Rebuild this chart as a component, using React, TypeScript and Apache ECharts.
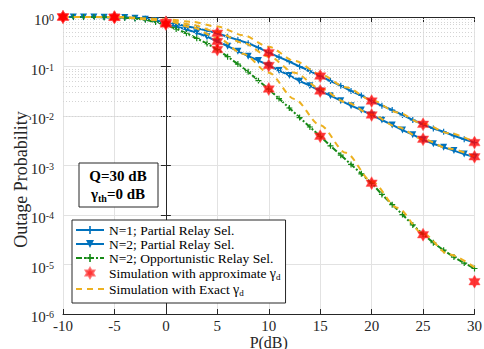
import React, { useEffect, useRef } from "react";
import * as echarts from "echarts";

const SERIF = '"Liberation Serif", "Times New Roman", serif';

// P (dB) grid of the analytical curves
const P_DB = [-10, -9, -8, -7, -6, -5, -4, -3, -2, -1, 0, 1, 2, 3, 4, 5, 6, 7, 8, 9, 10, 11, 12, 13, 14, 15, 16, 17, 18, 19, 20, 21, 22, 23, 24, 25, 26, 27, 28, 29, 30];

const N1_PARTIAL = [1.0, 1.0, 1.0, 0.998, 0.995, 0.99, 0.98, 0.96, 0.92, 0.85, 0.78, 0.72, 0.65, 0.59, 0.53, 0.47, 0.40, 0.345, 0.295, 0.24, 0.19, 0.155, 0.126, 0.10, 0.081, 0.064, 0.051, 0.041, 0.032, 0.026, 0.020, 0.0162, 0.0132, 0.0105, 0.0083, 0.0068, 0.0056, 0.0048, 0.0040, 0.0034, 0.0029];

const N2_PARTIAL = [1.0, 1.0, 1.0, 0.998, 0.993, 0.986, 0.973, 0.944, 0.90, 0.83, 0.74, 0.645, 0.56, 0.48, 0.40, 0.32, 0.257, 0.204, 0.162, 0.132, 0.105, 0.083, 0.066, 0.051, 0.041, 0.032, 0.0257, 0.0204, 0.0162, 0.0132, 0.0105, 0.0083, 0.0066, 0.0052, 0.0042, 0.0033, 0.00275, 0.00234, 0.0020, 0.0017, 0.00148];

const N2_OPPORTUNISTIC = [1.0, 1.0, 1.0, 0.998, 0.993, 0.984, 0.966, 0.933, 0.88, 0.79, 0.69, 0.575, 0.47, 0.37, 0.29, 0.22, 0.158, 0.112, 0.078, 0.052, 0.035, 0.0224, 0.0145, 0.0093, 0.006, 0.0039, 0.0025, 0.00162, 0.00105, 0.00068, 0.00044, 0.00026, 0.000162, 0.000102, 0.000063, 0.000041, 0.0000275, 0.0000195, 0.0000141, 0.0000107, 0.0000083];

// Simulation with approximate gamma_d (red hexagrams)
const SIM_P = [-10, -5, 0, 5, 10, 15, 20, 25, 30];
const SIM_N1 = [1.0, 0.99, 0.78, 0.47, 0.19, 0.064, 0.020, 0.0068, 0.0029];
const SIM_N2 = [1.0, 0.986, 0.75, 0.32, 0.105, 0.032, 0.0105, 0.0034, 0.0015];
const SIM_OPP = [1.0, 0.984, 0.72, 0.22, 0.035, 0.0039, 0.00044, 0.00004, 0.0000045];

// Simulation with exact gamma_d (yellow dashed)
const EXACT_P = [-10, -5, 0, 2.5, 5, 7.5, 10, 12.5, 15, 17.5, 20, 22.5, 25, 27.5, 30];
const EXACT_N1 = [1.0, 1.0, 0.9, 0.8, 0.64, 0.43, 0.25, 0.13, 0.07, 0.038, 0.021, 0.0118, 0.0070, 0.0045, 0.0030];
const EXACT_N2 = [1.0, 1.0, 0.86, 0.7, 0.5, 0.3, 0.16, 0.075, 0.036, 0.019, 0.0107, 0.0060, 0.0034, 0.0022, 0.00152];
const EXACT_OPP = [1.0, 1.0, 0.85, 0.62, 0.38, 0.18, 0.075, 0.022, 0.0065, 0.0018, 0.00048, 0.00014, 0.000042, 0.000016, 0.0000088];

const NAME_N1 = "N=1; Partial Relay Sel.";
const NAME_N2 = "N=2; Partial Relay Sel.";
const NAME_OPP = "N=2; Opportunistic Relay Sel.";
const NAME_APPROX = "Simulation with approximate γd";
const NAME_EXACT = "Simulation with Exact γd";

const BLUE = "#0072BD";
const GREEN = "#178A17";
const YELLOW = "#EDB120";
const RED = "#FF0000";
const AXIS = "#262626";

const PLUS = "path://M4,0L6,0L6,4L10,4L10,6L6,6L6,10L4,10L4,6L0,6L0,4L4,4Z";
const HEXAGRAM = "path://M10,0L12.89,5L18.66,5L15.77,10L18.66,15L12.89,15L10,20L7.11,15L1.34,15L4.23,10L1.34,5L7.11,5Z";

const zip = (xs: number[], ys: number[]) => xs.map((x, i) => [x, ys[i]]);

export default function App() {
  const ref = useRef<HTMLDivElement>(null);

  useEffect(() => {
    if (!ref.current) return;
    const chart = echarts.init(ref.current, null, { renderer: "svg" });

    const minorLines: any[] = [];
    for (let e = -6; e < 0; e++) {
      for (let m = 2; m <= 9; m++) minorLines.push({ yAxis: m * Math.pow(10, e) });
    }

    const lineBase = {
      type: "line",
      showSymbol: true,
      symbolKeepAspect: true,
      z: 3,
    };

    const starSeries = (data: number[]) => ({
      name: NAME_APPROX,
      type: "scatter",
      data: zip(SIM_P, data),
      symbol: HEXAGRAM,
      symbolSize: 13,
      symbolKeepAspect: true,
      itemStyle: { color: RED, borderColor: "#ff5a5a", borderWidth: 0.6 },
      z: 6,
    });

    const exactSeries = (data: number[]) => ({
      name: NAME_EXACT,
      type: "line",
      data: zip(EXACT_P, data),
      symbol: "none",
      smooth: 0.3,
      smoothMonotone: "x",
      lineStyle: { color: YELLOW, width: 2, type: [6, 5] },
      itemStyle: { color: YELLOW },
      z: 5,
    });

    const option: any = {
      animation: false,
      backgroundColor: "#ffffff",
      textStyle: { fontFamily: SERIF },
      grid: { left: 63, right: 9.5, top: 17, bottom: 35, outerBoundsMode: "none", containLabel: false },
      xAxis: [
        {
          type: "value",
          min: -10,
          max: 30,
          interval: 5,
          name: "P(dB)",
          nameLocation: "middle",
          nameGap: 20,
          nameMoveOverlap: false,
          nameTextStyle: { fontFamily: SERIF, fontSize: 16, color: AXIS },
          axisLine: { show: true, lineStyle: { color: AXIS, width: 1 } },
          axisTick: { show: true, inside: true, length: 5, lineStyle: { color: AXIS } },
          axisLabel: { fontFamily: SERIF, fontSize: 15, color: AXIS, margin: 5, lineHeight: 14 },
          splitLine: { show: true, lineStyle: { color: "#e2e2e2", width: 1 } },
        },
        {
          type: "value",
          position: "top",
          min: -10,
          max: 30,
          interval: 5,
          axisLine: { show: true, lineStyle: { color: AXIS, width: 1 } },
          axisTick: { show: true, inside: true, length: 5, lineStyle: { color: AXIS } },
          axisLabel: { show: false },
          splitLine: { show: false },
        },
      ],
      yAxis: [
        {
          type: "log",
          logBase: 10,
          min: 1e-6,
          max: 1,
          splitNumber: 6,
          name: "Outage Probability",
          nameLocation: "middle",
          nameGap: 33,
          nameMoveOverlap: false,
          nameTextStyle: { fontFamily: SERIF, fontSize: 18, color: AXIS, padding: [0, 28, 0, 0] },
          axisLine: { show: true, lineStyle: { color: AXIS, width: 1 } },
          axisTick: { show: true, inside: true, length: 5, lineStyle: { color: AXIS } },
          axisLabel: {
            margin: 9,
            formatter: (v: number) => `{b|10}{s|${Math.round(Math.log10(v))}}`,
            rich: {
              b: { fontFamily: SERIF, fontSize: 15, color: AXIS, lineHeight: 15, padding: [6, 0, 0, 0] },
              s: { fontFamily: SERIF, fontSize: 10, color: AXIS, lineHeight: 10, padding: [3, 0, 0, 0], verticalAlign: "top" },
            },
          },
          splitLine: { show: true, lineStyle: { color: "#e2e2e2", width: 1 } },
        },
        {
          type: "log",
          logBase: 10,
          min: 1e-6,
          max: 1,
          splitNumber: 6,
          position: "right",
          axisLine: { show: true, lineStyle: { color: AXIS, width: 1 } },
          axisTick: { show: true, inside: true, length: 5, lineStyle: { color: AXIS } },
          axisLabel: { show: false },
          splitLine: { show: false },
        },
      ],
      legend: {
        orient: "vertical",
        left: 72,
        top: 220,
        backgroundColor: "#ffffff",
        borderColor: AXIS,
        borderWidth: 1,
        borderRadius: 0,
        padding: [3, 5, 6, 3],
        itemGap: 0,
        itemWidth: 28,
        itemHeight: 10,
        z: 20,
        data: [
          { name: NAME_N1 },
          { name: NAME_N2 },
          { name: NAME_OPP },
          { name: NAME_APPROX },
          { name: NAME_EXACT, itemStyle: { opacity: 0 } },
        ],
        formatter: (name: string) => {
          if (name === NAME_APPROX) return "{t|Simulation with approximate }{g|γ}{d|d}";
          if (name === NAME_EXACT) return "{t|Simulation with Exact }{g|γ}{d|d}";
          return `{t|${name}}`;
        },
        textStyle: {
          fontFamily: SERIF,
          fontSize: 13.5,
          color: "#000",
          lineHeight: 14,
          rich: {
            t: { fontFamily: SERIF, fontSize: 13.5, color: "#000", lineHeight: 14 },
            g: { fontFamily: SERIF, fontSize: 14, color: "#000", lineHeight: 14 },
            d: { fontFamily: SERIF, fontSize: 9, color: "#000", lineHeight: 10, padding: [7, 0, 0, 0] },
          },
        },
      },
      graphic: [
        {
          type: "rect",
          z: 100,
          shape: { x: 79, y: 163, width: 79, height: 44 },
          style: { fill: "#ffffff", stroke: AXIS, lineWidth: 1 },
        },
        {
          type: "text",
          z: 101,
          x: 118,
          y: 176,
          style: {
            text: "Q=30 dB",
            font: `bold 15px ${SERIF}`,
            fill: "#000",
            align: "center",
            verticalAlign: "middle",
          },
        },
        {
          type: "text",
          z: 101,
          x: 118,
          y: 194,
          style: {
            text: "{g|γ}{s|th}{t|=0 dB}",
            align: "center",
            verticalAlign: "middle",
            fill: "#000",
            rich: {
              g: { fontFamily: SERIF, fontSize: 15, fontWeight: "bold", fill: "#000", lineHeight: 15 },
              s: { fontFamily: SERIF, fontSize: 10, fontWeight: "bold", fill: "#000", lineHeight: 10, padding: [8, 0, 0, 0] },
              t: { fontFamily: SERIF, fontSize: 15, fontWeight: "bold", fill: "#000", lineHeight: 15 },
            },
          },
        },
      ],
      series: [
        {
          name: "minor-grid",
          type: "line",
          data: [[-10, 1]],
          showSymbol: false,
          symbol: "none",
          lineStyle: { opacity: 0 },
          z: 1,
          silent: true,
          markLine: {
            silent: true,
            symbol: ["none", "none"],
            label: { show: false },
            lineStyle: { color: "#d4d4d4", type: [1, 2], width: 1 },
            data: minorLines,
          },
        },
        {
          ...lineBase,
          name: NAME_N1,
          data: zip(P_DB, N1_PARTIAL),
          symbol: PLUS,
          symbolSize: 6,
          lineStyle: { color: BLUE, width: 2 },
          itemStyle: { color: BLUE },
        },
        {
          ...lineBase,
          name: NAME_N2,
          data: zip(P_DB, N2_PARTIAL),
          symbol: "triangle",
          symbolRotate: 180,
          symbolSize: 7,
          lineStyle: { color: BLUE, width: 2 },
          itemStyle: { color: BLUE },
        },
        {
          ...lineBase,
          name: NAME_OPP,
          data: zip(P_DB, N2_OPPORTUNISTIC),
          symbol: PLUS,
          symbolSize: 6,
          lineStyle: { color: GREEN, width: 2, type: [6, 2, 2, 2] },
          itemStyle: { color: GREEN },
        },
        exactSeries(EXACT_N1),
        exactSeries(EXACT_N2),
        exactSeries(EXACT_OPP),
        starSeries(SIM_N1),
        starSeries(SIM_N2),
        starSeries(SIM_OPP),
      ],
    };

    chart.setOption(option);
    return () => chart.dispose();
  }, []);

  return (
    <div
      ref={ref}
      style={{ position: "fixed", left: 0, top: 0, width: 484, height: 349, background: "#fff" }}
    />
  );
}
